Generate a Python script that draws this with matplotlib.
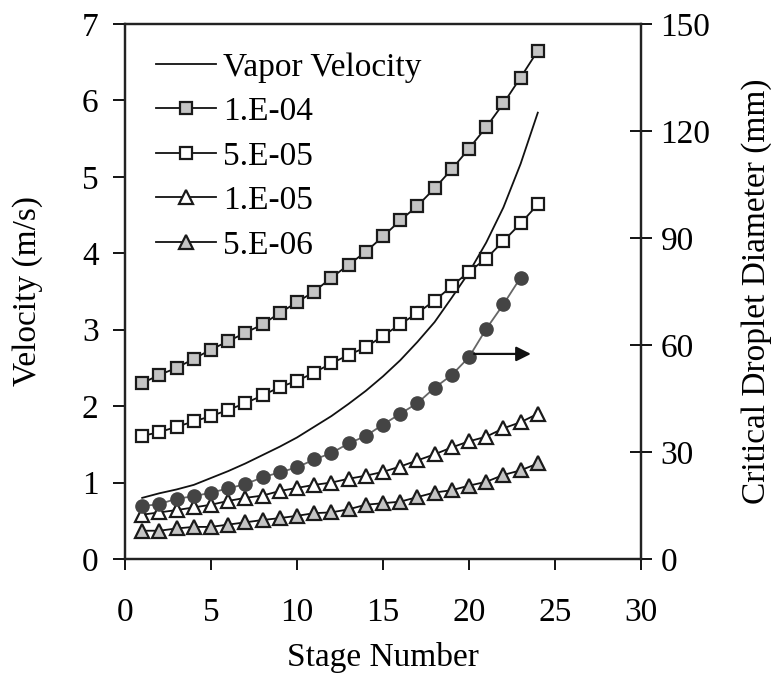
import matplotlib
matplotlib.use("Agg")
import matplotlib.pyplot as plt
import numpy as np

plt.rcParams['font.family'] = ['Liberation Serif', 'DejaVu Serif']

# stage numbers
stages = np.arange(1, 25)
stages_d = np.arange(1, 24)

# velocities (m/s)
vapor = [0.80, 0.86, 0.91, 0.97, 1.06, 1.15, 1.25, 1.36, 1.47, 1.59, 1.73, 1.87,
         2.03, 2.20, 2.39, 2.60, 2.84, 3.10, 3.42, 3.75, 4.14, 4.60, 5.17, 5.84]
v_1e04 = [2.30, 2.41, 2.50, 2.62, 2.74, 2.85, 2.96, 3.07, 3.22, 3.36, 3.50, 3.68,
          3.85, 4.02, 4.22, 4.43, 4.62, 4.85, 5.10, 5.37, 5.65, 5.96, 6.30, 6.65]
v_5e05 = [1.61, 1.66, 1.73, 1.80, 1.87, 1.95, 2.04, 2.14, 2.25, 2.33, 2.44, 2.56,
          2.67, 2.77, 2.92, 3.07, 3.22, 3.38, 3.57, 3.76, 3.93, 4.16, 4.39, 4.64]
v_1e05 = [0.58, 0.61, 0.64, 0.675, 0.71, 0.76, 0.80, 0.83, 0.89, 0.93, 0.97, 1.00,
          1.05, 1.09, 1.14, 1.21, 1.29, 1.37, 1.46, 1.54, 1.60, 1.71, 1.79, 1.90]
v_5e06 = [0.37, 0.37, 0.40, 0.42, 0.42, 0.45, 0.48, 0.51, 0.535, 0.565, 0.60, 0.61,
          0.65, 0.71, 0.73, 0.75, 0.81, 0.87, 0.90, 0.96, 1.01, 1.10, 1.16, 1.25]

# critical droplet diameter (mm), right axis
diameter = [14.8, 15.4, 16.9, 17.6, 18.6, 19.8, 21.0, 22.9, 24.3, 25.7, 27.9, 29.7,
            32.4, 34.5, 37.7, 40.7, 43.7, 48.0, 51.6, 56.6, 64.5, 71.4, 78.9]

legend_labels = ["Vapor Velocity", "1.E-04", "5.E-05", "1.E-05", "5.E-06"]

fig = plt.figure(figsize=(7.71, 6.91), dpi=100)
ax = fig.add_axes([125/771, 1-559/691, 516/771, 535/691])

ax.plot(stages, vapor, color="#111111", lw=1.3, label=legend_labels[0])
ax.plot(stages, v_1e04, color="#111111", lw=1.3, marker="s", ms=8, mfc="#c4c4c4",
        mec="#1a1a1a", mew=1.6, label=legend_labels[1])
ax.plot(stages, v_5e05, color="#111111", lw=1.3, marker="s", ms=8, mfc="white",
        mec="#1a1a1a", mew=1.6, label=legend_labels[2])
ax.plot(stages, v_1e05, color="#111111", lw=1.3, marker="^", ms=9.5, mfc="white",
        mec="#1a1a1a", mew=1.6, label=legend_labels[3])
ax.plot(stages, v_5e06, color="#111111", lw=1.3, marker="^", ms=9.5, mfc="#c4c4c4",
        mec="#1a1a1a", mew=1.6, label=legend_labels[4])

ax.set_xlim(0, 30)
ax.set_ylim(0, 7)
ax.set_xticks(range(0, 31, 5))
ax.set_yticks(range(0, 8))
ax.set_xlabel("Stage Number", fontsize=24, labelpad=10)
ax.set_ylabel("Velocity (m/s)", fontsize=24, labelpad=28)
ax.tick_params(axis="x", direction="out", length=8, width=1.3, labelsize=24, pad=20)
ax.tick_params(axis="y", direction="out", length=9, width=1.3, labelsize=24, pad=10)
for s in ax.spines.values():
    s.set_linewidth(1.6)
    s.set_color("#222222")

# right axis with droplet diameter
ax2 = ax.twinx()
ax2.plot(stages_d, diameter, color="#666666", lw=1.3, marker="o", ms=9.5,
         mfc="#444444", mec="#444444")
ax2.set_ylim(0, 150)
ax2.set_yticks(range(0, 151, 30))
ax2.set_ylabel("Critical Droplet Diameter (mm)", fontsize=24, labelpad=22)
ax2.tick_params(axis="y", direction="inout", length=16, width=1.3, labelsize=24, pad=6)
for s in ax2.spines.values():
    s.set_linewidth(1.6)
    s.set_color("#222222")

# arrow pointing to the right axis
ax2.annotate("", xy=(23.6, 57.5), xytext=(20.3, 57.5),
             arrowprops=dict(arrowstyle="-|>", color="#111111", lw=1.6,
                             mutation_scale=22, shrinkA=0, shrinkB=0))

leg = ax.legend(loc="upper left", bbox_to_anchor=(0.022, 0.985), frameon=False,
                fontsize=24, handlelength=1.8, handletextpad=0.2,
                labelspacing=0.42, borderaxespad=0.2)

fig.savefig("out.png", dpi=100)
